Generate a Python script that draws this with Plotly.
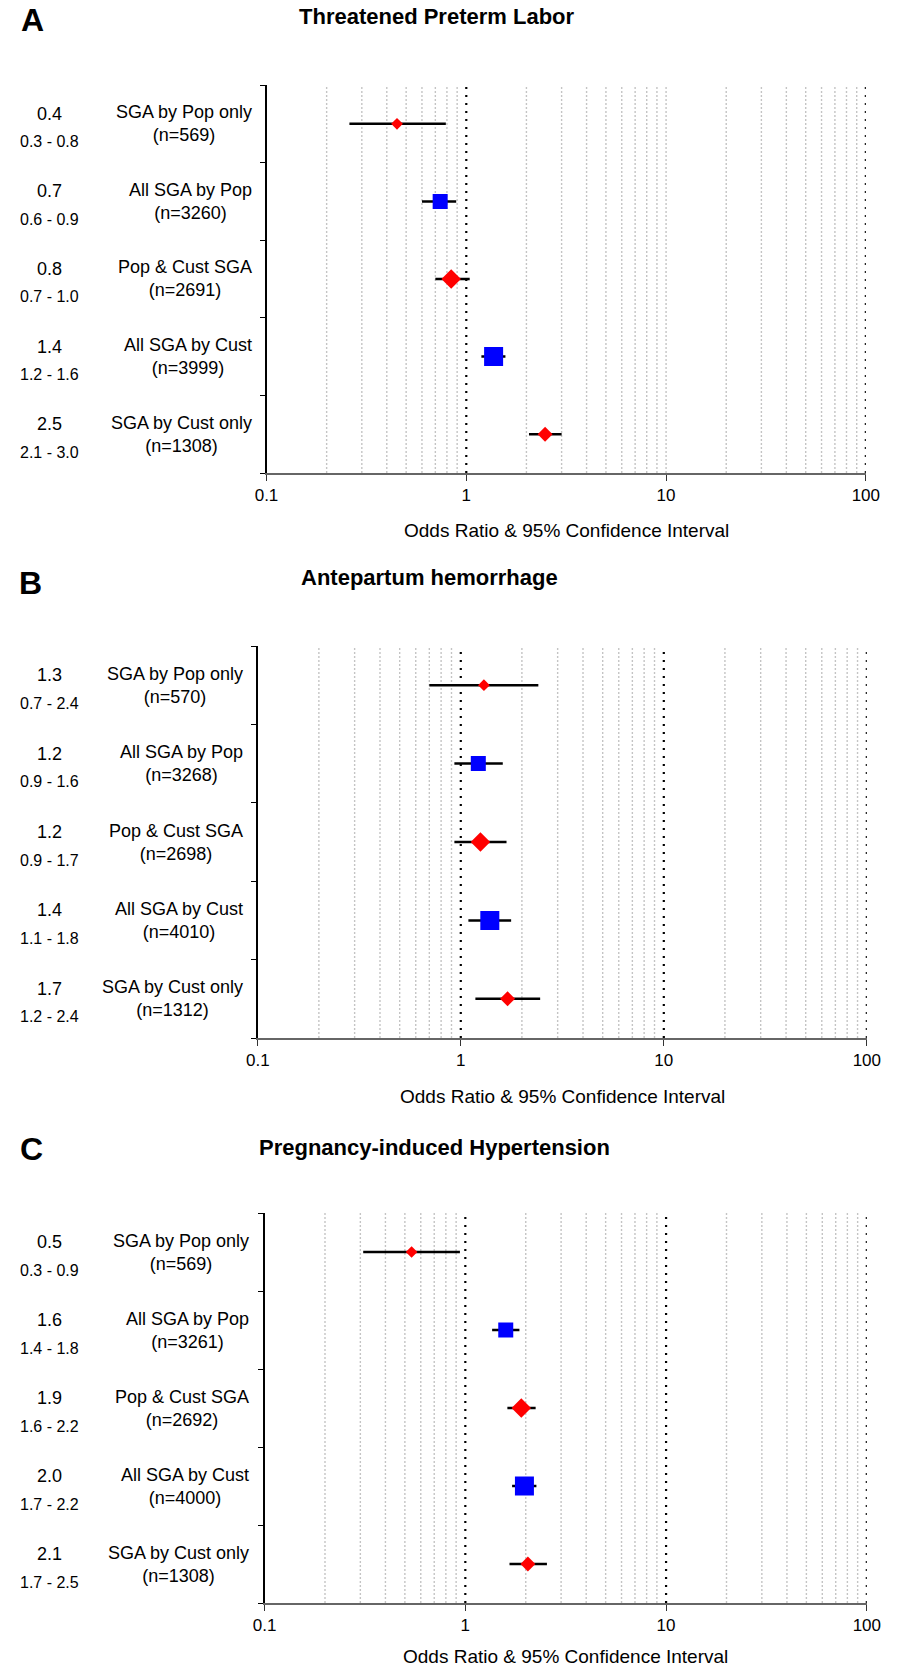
import plotly.graph_objects as go

# ---------------- data ----------------
categories = ["SGA by Pop only", "All SGA by Pop", "Pop & Cust SGA", "All SGA by Cust", "SGA by Cust only"]

titles = ["Threatened Preterm Labor", "Antepartum hemorrhage", "Pregnancy-induced Hypertension"]
letters = ["A", "B", "C"]

n_A = [569, 3260, 2691, 3999, 1308]
or_A = [0.45, 0.74, 0.84, 1.37, 2.48]
lo_A = [0.26, 0.60, 0.70, 1.19, 2.06]
hi_A = [0.79, 0.89, 1.04, 1.57, 3.00]
or_txt_A = ["0.4", "0.7", "0.8", "1.4", "2.5"]
ci_txt_A = ["0.3 - 0.8", "0.6 - 0.9", "0.7 - 1.0", "1.2 - 1.6", "2.1 - 3.0"]

n_B = [570, 3268, 2698, 4010, 1312]
or_B = [1.30, 1.22, 1.25, 1.39, 1.70]
lo_B = [0.70, 0.93, 0.93, 1.09, 1.18]
hi_B = [2.41, 1.61, 1.68, 1.77, 2.46]
or_txt_B = ["1.3", "1.2", "1.2", "1.4", "1.7"]
ci_txt_B = ["0.7 - 2.4", "0.9 - 1.6", "0.9 - 1.7", "1.1 - 1.8", "1.2 - 2.4"]

n_C = [569, 3261, 2692, 4000, 1308]
or_C = [0.54, 1.59, 1.90, 1.97, 2.05]
lo_C = [0.31, 1.36, 1.62, 1.71, 1.66]
hi_C = [0.94, 1.86, 2.24, 2.26, 2.55]
or_txt_C = ["0.5", "1.6", "1.9", "2.0", "2.1"]
ci_txt_C = ["0.3 - 0.9", "1.4 - 1.8", "1.6 - 2.2", "1.7 - 2.2", "1.7 - 2.5"]

tick_vals = [0.1, 1, 10, 100]
tick_text = ["0.1", "1", "10", "100"]
minor_grid = [0.2, 0.3, 0.4, 0.5, 0.6, 0.7, 0.8, 0.9,
              2, 3, 4, 5, 6, 7, 8, 9,
              20, 30, 40, 50, 60, 70, 80, 90]
major_grid_A = [1, 100]
extra_minor_A = [10]
major_grid_BC = [1, 10, 100]

# ---------------- styles ----------------
W, H = 909, 1671
FONT = "Arial, Liberation Sans, Helvetica, sans-serif"
rows = [1, 2, 3, 4, 5]
symbols = ["diamond", "square", "diamond", "square", "diamond"]
colors = ["#ff0000", "#0000ff", "#ff0000", "#0000ff", "#ff0000"]
sizes = [9, 15, 15, 19, 11.5]

panels = [
    dict(n=n_A, orv=or_A, lo=lo_A, hi=hi_A, ot=or_txt_A, ct=ci_txt_A,
         x0=262, x1=879, y0=85, y1=473, label_right=249, title_x=438, title_y=17,
         letter_x=21, letter_y=20, xt_y=530, major=major_grid_A, minor=minor_grid + extra_minor_A),
    dict(n=n_B, orv=or_B, lo=lo_B, hi=hi_B, ot=or_txt_B, ct=ci_txt_B,
         x0=253, x1=880, y0=646, y1=1038, label_right=240, title_x=430, title_y=577,
         letter_x=19, letter_y=583, xt_y=1096, major=major_grid_BC, minor=minor_grid),
    dict(n=n_C, orv=or_C, lo=lo_C, hi=hi_C, ot=or_txt_C, ct=ci_txt_C,
         x0=260, x1=880, y0=1213, y1=1603, label_right=246, title_x=435, title_y=1147,
         letter_x=20, letter_y=1149, xt_y=1656, major=major_grid_BC, minor=minor_grid),
]

fig = go.Figure()
shapes = []
annotations = []
layout_axes = {}

for i, p in enumerate(panels):
    sfx = "" if i == 0 else str(i + 1)
    xa, ya = "x" + sfx, "y" + sfx

    fig.add_trace(go.Scatter(
        x=p["orv"], y=rows, mode="markers",
        marker=dict(symbol=symbols, size=sizes, color=colors, opacity=1, line=dict(width=0)),
        error_x=dict(type="data", symmetric=False,
                     array=[h - o for h, o in zip(p["hi"], p["orv"])],
                     arrayminus=[o - l for o, l in zip(p["orv"], p["lo"])],
                     color="black", thickness=2.5, width=0),
        xaxis=xa, yaxis=ya, showlegend=False, hoverinfo="skip"))

    layout_axes["xaxis" + sfx] = dict(
        type="log", range=[-1, 2], domain=[p["x0"] / W, p["x1"] / W], anchor=ya,
        tickvals=tick_vals, ticktext=tick_text, ticks="outside", ticklen=6,
        tickcolor="#333", tickwidth=1.2, showline=True, linecolor="#666", linewidth=1.5,
        showgrid=False, zeroline=False, tickfont=dict(family=FONT, size=17, color="black"))
    layout_axes["yaxis" + sfx] = dict(
        range=[5.5, 0.5], domain=[1 - p["y1"] / H, 1 - p["y0"] / H], anchor=xa,
        tickvals=[0.5, 1.5, 2.5, 3.5, 4.5, 5.5], ticks="outside", ticklen=5,
        tickcolor="black", showticklabels=False, showline=True, linecolor="black",
        linewidth=1.5, showgrid=False, zeroline=False)

    for v in p["minor"]:
        shapes.append(dict(type="line", xref=xa, yref=ya + " domain", x0=v, x1=v, y0=0, y1=1,
                           line=dict(color="#c4c4c4", width=1.4, dash="2px,2px"), layer="below"))
    for v in p["major"]:
        shapes.append(dict(type="line", xref=xa, yref=ya + " domain", x0=v, x1=v, y0=0, y1=1,
                           line=dict(color="black", width=2.2, dash="2px,6px"), layer="below"))

    for r, cat, n, ot, ct in zip(rows, categories, p["n"], p["ot"], p["ct"]):
        annotations.append(dict(xref="paper", yref=ya, x=39 / W, y=r, yshift=10, text=ot,
                                showarrow=False, xanchor="center", yanchor="middle",
                                font=dict(family=FONT, size=18, color="black")))
        annotations.append(dict(xref="paper", yref=ya, x=39 / W, y=r, yshift=-18, text=ct,
                                showarrow=False, xanchor="center", yanchor="middle",
                                font=dict(family=FONT, size=16, color="black")))
        annotations.append(dict(xref="paper", yref=ya, x=p["label_right"] / W, y=r,
                                text=f"{cat}<br>(n={n})", showarrow=False,
                                xanchor="right", yanchor="middle", align="center",
                                font=dict(family=FONT, size=18, color="black")))

    annotations.append(dict(xref="paper", yref="paper", x=p["title_x"] / W, y=1 - p["title_y"] / H,
                            text="<b>" + titles[i] + "</b>", showarrow=False,
                            xanchor="center", yanchor="middle",
                            font=dict(family=FONT, size=22, color="black")))
    annotations.append(dict(xref="paper", yref="paper", x=p["letter_x"] / W, y=1 - p["letter_y"] / H,
                            text="<b>" + letters[i] + "</b>", showarrow=False,
                            xanchor="center", yanchor="middle",
                            font=dict(family=FONT, size=32, color="black")))
    annotations.append(dict(xref="paper", yref="paper", x=(p["x0"] + p["x1"]) / 2 / W,
                            y=1 - p["xt_y"] / H, text="Odds Ratio & 95% Confidence Interval",
                            showarrow=False, xanchor="center", yanchor="middle",
                            font=dict(family=FONT, size=19, color="black")))

fig.update_layout(
    width=W, height=H, margin=dict(l=0, r=0, t=0, b=0),
    paper_bgcolor="white", plot_bgcolor="white",
    shapes=shapes, annotations=annotations, showlegend=False,
    **layout_axes)

fig.write_html("out.html", config={"displayModeBar": False},
               post_script="document.body.style.margin='0';document.body.style.overflow='hidden';")
